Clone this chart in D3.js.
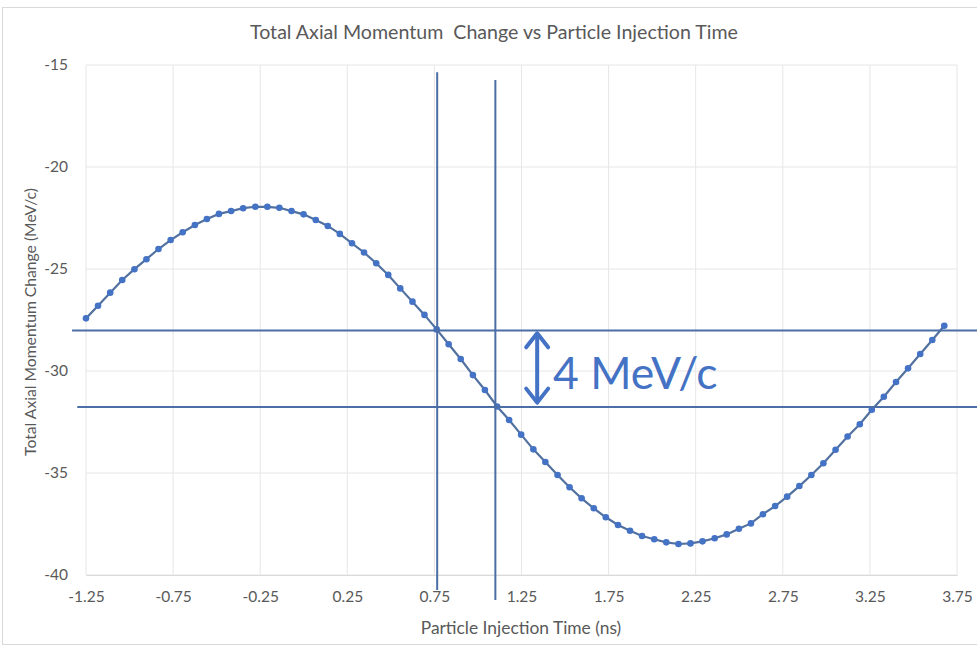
<!DOCTYPE html>
<html>
<head>
<meta charset="utf-8">
<script src="https://cdn.jsdelivr.net/npm/d3@7"></script>
<style>
  body { margin: 0; background: #fff; }
  svg { display: block; font-family: Lato, "Open Sans", sans-serif; }
</style>
</head>
<body>
<svg width="977" height="649"></svg>
<script>
'use strict';

// injection time (ns)
const times = [
  -1.250, -1.181, -1.111, -1.042, -0.972, -0.903, -0.834, -0.764, -0.695, -0.625,
  -0.556, -0.487, -0.417, -0.348, -0.278, -0.209, -0.140, -0.070, -0.001, 0.069,
  0.138, 0.207, 0.277, 0.346, 0.416, 0.485, 0.554, 0.624, 0.693, 0.763,
  0.832, 0.901, 0.971, 1.040, 1.110, 1.179, 1.248, 1.318, 1.387, 1.457,
  1.526, 1.595, 1.665, 1.734, 1.804, 1.873, 1.942, 2.012, 2.081, 2.151,
  2.220, 2.289, 2.359, 2.428, 2.498, 2.567, 2.636, 2.706, 2.775, 2.845,
  2.914, 2.983, 3.053, 3.122, 3.192, 3.261, 3.330, 3.400, 3.469, 3.539,
  3.608, 3.677
];

// total axial momentum change (MeV/c)
const momentum = [
  -27.42, -26.80, -26.16, -25.54, -25.01, -24.52, -24.02, -23.58, -23.20, -22.84,
  -22.55, -22.30, -22.16, -22.02, -21.95, -21.95, -22.00, -22.16, -22.32, -22.60,
  -22.89, -23.28, -23.74, -24.19, -24.72, -25.29, -25.95, -26.60, -27.25, -27.96,
  -28.69, -29.41, -30.20, -30.93, -31.74, -32.40, -33.12, -33.84, -34.46, -35.10,
  -35.70, -36.24, -36.73, -37.17, -37.55, -37.83, -38.09, -38.25, -38.40, -38.48,
  -38.45, -38.35, -38.20, -38.01, -37.73, -37.47, -37.02, -36.62, -36.16, -35.64,
  -35.10, -34.52, -33.86, -33.21, -32.61, -31.90, -31.26, -30.54, -29.87, -29.17,
  -28.48, -27.78
];

const xTicks = [-1.25, -0.75, -0.25, 0.25, 0.75, 1.25, 1.75, 2.25, 2.75, 3.25, 3.75];
const yTicks = [-40, -35, -30, -25, -20, -15];

// hand drawn marker lines: [x1, y1, x2, y2] in data units
const hLines = [
  [-1.33, -28.02, 3.87, -28.02],
  [-1.30, -31.76, 3.87, -31.76]
];
const vLines = [
  [0.766, -15.35, 0.766, -40.74],
  [1.100, -15.74, 1.100, -41.23]
];

const svg = d3.select("svg");

const x = d3.scaleLinear().domain([-1.25, 3.75]).range([86, 957]);
const y = d3.scaleLinear().domain([-40, -15]).range([575, 65]);

// chart border
svg.append("rect")
  .attr("x", 2.5).attr("y", 7.5)
  .attr("width", 990).attr("height", 637)
  .attr("fill", "none")
  .attr("stroke", "#d9d9d9");

// gridlines
svg.append("g")
  .attr("stroke", "#e6e6e6")
  .selectAll("line")
  .data(yTicks)
  .join("line")
    .attr("x1", x(-1.25)).attr("x2", x(3.75))
    .attr("y1", d => y(d)).attr("y2", d => y(d));

svg.append("g")
  .attr("stroke", "#e6e6e6")
  .selectAll("line")
  .data(xTicks)
  .join("line")
    .attr("x1", d => x(d)).attr("x2", d => x(d))
    .attr("y1", y(-15)).attr("y2", y(-40));

// axes
const xAxis = svg.append("g")
  .attr("transform", `translate(0,${y(-40)})`)
  .call(d3.axisBottom(x).tickValues(xTicks).tickFormat(d => d.toFixed(2)).tickSize(0).tickPadding(16));
xAxis.select(".domain").attr("stroke", "#d9d9d9");

const yAxis = svg.append("g")
  .attr("transform", `translate(${x(-1.25)},0)`)
  .call(d3.axisLeft(y).tickValues(yTicks).tickFormat(d => String(d)).tickSize(0).tickPadding(18));
yAxis.select(".domain").remove();

svg.selectAll(".tick text")
  .attr("fill", "#595959")
  .attr("font-size", 15.5)
  .attr("font-family", "Lato, sans-serif");

// titles
svg.append("text")
  .attr("x", 494).attr("y", 39)
  .attr("text-anchor", "middle")
  .attr("fill", "#595959")
  .attr("font-size", 19.6)
  .style("white-space", "pre")
  .text("Total Axial Momentum  Change vs Particle Injection Time");

svg.append("text")
  .attr("x", 521).attr("y", 634)
  .attr("text-anchor", "middle")
  .attr("fill", "#595959")
  .attr("font-size", 17.4)
  .text("Particle Injection Time (ns)");

svg.append("text")
  .attr("transform", "translate(36,322) rotate(-90)")
  .attr("text-anchor", "middle")
  .attr("fill", "#595959")
  .attr("font-size", 15.7)
  .text("Total Axial Momentum Change (MeV/c)");

// series
const pts = times.map((t, i) => [t, momentum[i]]);

svg.append("path")
  .datum(pts)
  .attr("fill", "none")
  .attr("stroke", "#52719f")
  .attr("stroke-width", 2.2)
  .attr("d", d3.line().x(d => x(d[0])).y(d => y(d[1])));

svg.append("g")
  .attr("fill", "#4472c4")
  .selectAll("circle")
  .data(pts)
  .join("circle")
    .attr("cx", d => x(d[0]))
    .attr("cy", d => y(d[1]))
    .attr("r", 3.3);

// marker lines
svg.append("g")
  .attr("stroke", "#4a6ea5")
  .attr("stroke-width", 2)
  .selectAll("line")
  .data(hLines.concat(vLines))
  .join("line")
    .attr("x1", d => x(d[0])).attr("y1", d => y(d[1]))
    .attr("x2", d => x(d[2])).attr("y2", d => y(d[3]));

// double arrow + label
const ax = x(1.34);
const aTop = y(-28.15), aBot = y(-31.55);
const arrow = svg.append("g")
  .attr("stroke", "#4472c4")
  .attr("stroke-width", 4)
  .attr("fill", "none")
  .attr("stroke-linecap", "round")
  .attr("stroke-linejoin", "round");
arrow.append("line").attr("x1", ax).attr("x2", ax).attr("y1", aTop + 2).attr("y2", aBot - 2);
arrow.append("path").attr("d", `M${ax - 11},${aTop + 14}L${ax},${aTop}L${ax + 11},${aTop + 14}`);
arrow.append("path").attr("d", `M${ax - 11},${aBot - 14}L${ax},${aBot}L${ax + 11},${aBot - 14}`);

svg.append("text")
  .attr("x", 553).attr("y", 389)
  .attr("fill", "#4472c4")
  .attr("font-size", 44.5)
  .text("4 MeV/c");
</script>
</body>
</html>
